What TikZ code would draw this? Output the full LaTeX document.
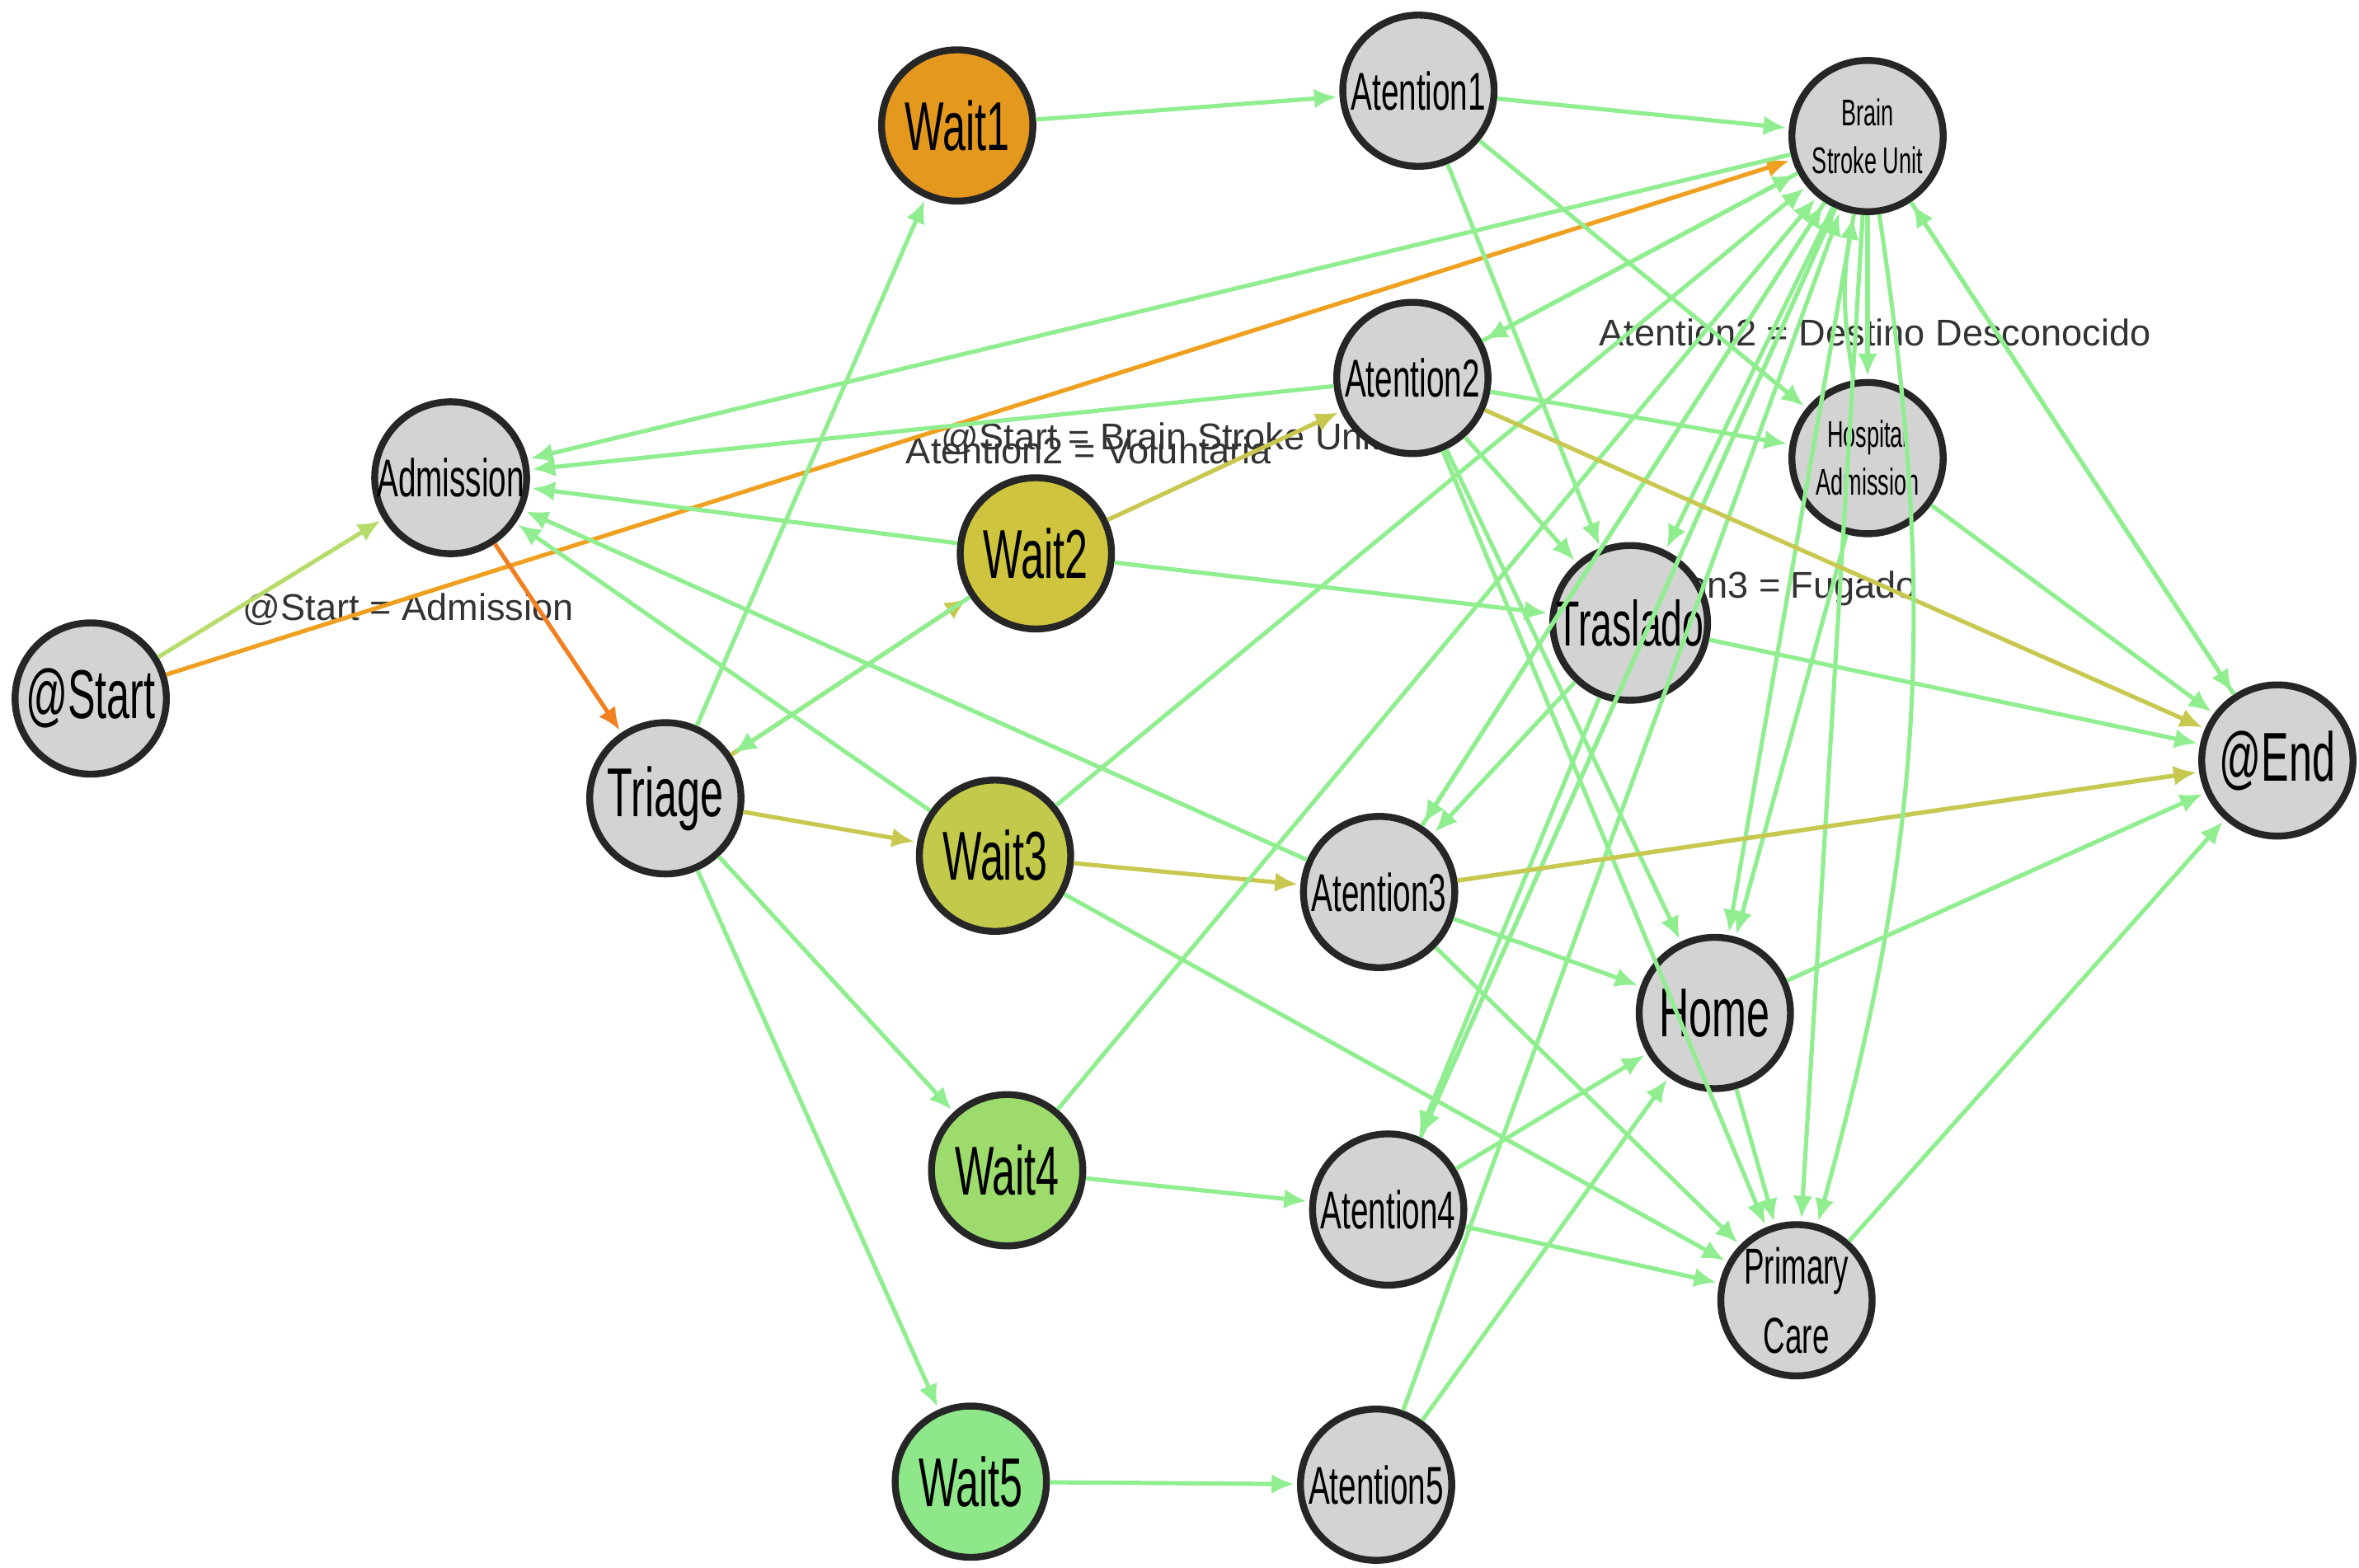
\documentclass[tikz,border=0pt]{standalone}
\usepackage{fontspec}
\setmainfont{Liberation Sans}
\usetikzlibrary{arrows.meta}
\newcommand\nt[1]{\scalebox{0.6}[1]{#1}}
\definecolor{gr}{HTML}{90EE90}
\definecolor{ol}{HTML}{C8C850}
\definecolor{yg}{HTML}{B8DC6C}
\definecolor{og}{HTML}{F0A020}
\definecolor{dog}{HTML}{F08020}
\definecolor{ng}{HTML}{D3D3D3}
\begin{document}
\begin{tikzpicture}[x=0.01cm,y=-0.01cm,
 n/.style={circle,draw=black!85,line width=1.3pt,fill=ng,minimum size=1cm,inner sep=0pt,font=\fontsize{13}{13}\selectfont},
 s/.style={n,font=\fontsize{10}{10}\selectfont},
 t/.style={n,font=\fontsize{7}{9}\selectfont,align=center},
 e/.style={draw=gr,line width=0.8pt,-{Latex[length=1.5mm,width=1.3mm]},shorten >=0.5pt},
 lb/.style={font=\fontsize{7}{7}\selectfont,text=black!80}]
\useasboundingbox (0,0) rectangle (1560,1037);
\node[lb] at (270,403) {@Start = Admission};
\node[lb] at (720,298) {Atention2 = Voluntaria};
\node[lb] at (768,290) {@Start = Brain Stroke Unit};
\node[lb] at (1240,220) {Atention2 = Destino Desconocido};
\node[lb] at (1160,389) {Atention3 = Fugado};
% nodes
\node[n] (st) at (60,462) {\nt{@Start}};
\node[s] (ad) at (298,316) {\nt{Admission}};
\node[n] (tr) at (440,528) {\nt{Triage}};
\node[n,fill=og!95!black] (w1) at (633,83) {\nt{Wait1}};
\node[n,fill={rgb,255:red,207;green,196;blue,62}] (w2) at (685,366) {\nt{Wait2}};
\node[n,fill={rgb,255:red,195;green,201;blue,74}] (w3) at (658,566) {\nt{Wait3}};
\node[n,fill={rgb,255:red,157;green,219;blue,108}] (w4) at (666,774) {\nt{Wait4}};
\node[n,fill={rgb,255:red,142;green,232;blue,138}] (w5) at (642,980) {\nt{Wait5}};
\node[s] (a1) at (938,60) {\nt{Atention1}};
\node[s] (a2) at (934,250) {\nt{Atention2}};
\node[s] (a3) at (912,590) {\nt{Atention3}};
\node[s] (a4) at (918,800) {\nt{Atention4}};
\node[s] (a5) at (910,982) {\nt{Atention5}};
\node[t] (bs) at (1235,90) {\nt{Brain}\\\nt{Stroke Unit}};
\node[t] (ha) at (1235,303) {\nt{Hospital}\\\nt{Admission}};
\node[n,font=\fontsize{12}{12}\selectfont] (tl) at (1078,412) {\nt{Traslado}};
\node[n] (ho) at (1134,670) {\nt{Home}};
\node[t,font=\fontsize{9.5}{13}\selectfont] (pc) at (1188,860) {\nt{Primary}\\\nt{Care}};
\node[n] (en) at (1506,503) {\nt{@End}};
% edges
\draw[e,draw=yg] (st) -- (ad);
\draw[e,draw=og] (st) -- (bs);
\draw[e,draw=dog] (ad) -- (tr);
\draw[e] (tr) -- (w1);
\draw[e,draw=ol] (tr) -- (w2);
\draw[e] (w2) -- (tr);
\draw[e,draw=ol] (tr) -- (w3);
\draw[e] (tr) -- (w4);
\draw[e] (tr) -- (w5);
\draw[e] (w1) -- (a1);
\draw[e,draw=ol] (w2) -- (a2);
\draw[e,draw=ol] (w3) -- (a3);
\draw[e] (w4) -- (a4);
\draw[e] (w5) -- (a5);
\foreach \a in {bs,a2,w2,w3,a3} \draw[e] (\a) -- (ad);
\draw[e] (w2) -- (tl);
\foreach \a/\b in {a1/bs,a1/ha,a1/tl,a2/bs,a2/ha,a2/tl,a2/ho,a2/pc,a3/ho,a3/pc,a3/bs,a4/ho,a4/pc,a4/bs,a5/bs,a5/ho,w3/bs,w4/bs,w3/pc,
 bs/a2,bs/a3,bs/a4,bs/ho,bs/pc,bs/ha,bs/en,en/bs,bs/tl,ha/en,ha/ho,ho/en,ho/pc,pc/en,tl/en,tl/a3,tl/a4,a3/en}
  \draw[e] (\a) -- (\b);
\draw[e,draw=ol] (a2) -- (en);
\draw[e,draw=ol] (a3) -- (en);
\draw[e] (bs) to[bend left=12] (pc);
\draw[e] (ha) to[bend left=10] (bs);
\end{tikzpicture}
\end{document}
